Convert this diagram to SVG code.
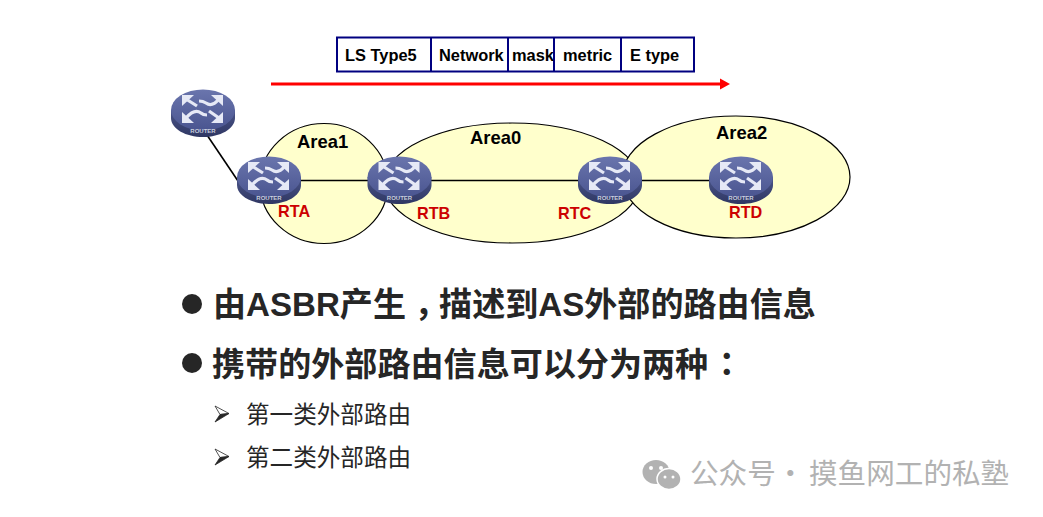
<svg xmlns="http://www.w3.org/2000/svg" width="1043" height="517" viewBox="0 0 1043 517">
<style>
.area{fill:#ffffcc;stroke:#000;stroke-width:1.2}
.link{stroke:#000;stroke-width:1.6;fill:none}
.box{fill:#fff;stroke:#000080;stroke-width:2}
.f{font-family:"Liberation Sans",Arial,sans-serif;font-weight:700;font-size:16.4px;fill:#000}
.a{font-size:18.4px}
.r{font-size:16.200px;fill:#cc0000}
.m{font-family:"Liberation Sans","Noto Sans CJK SC",sans-serif;font-weight:700;font-size:33.1px;fill:#262626}
.p{font-family:"Noto Sans CJK TC",sans-serif}
.s{font-family:"Noto Sans CJK SC",sans-serif;font-size:23.6px;fill:#262626}
.w{font-family:"Noto Sans CJK SC",sans-serif;font-size:28.6px;fill:#b2b2b2}
.tiny{font-family:"Liberation Sans",sans-serif;font-weight:700;font-size:6px;fill:#c9cede;text-anchor:middle}
.bh{fill:#262626;stroke:#262626;stroke-width:.8}
.bo{fill:#fff;stroke:#262626;stroke-width:.8}
</style>
<defs>
<linearGradient id="top" x1="0" y1="0" x2="0" y2="1"><stop offset="0" stop-color="#6a75ad"/><stop offset="1" stop-color="#4a5590"/></linearGradient>
<linearGradient id="side" x1="0" y1="0" x2="0" y2="1"><stop offset="0" stop-color="#4a5488"/><stop offset="1" stop-color="#2f3763"/></linearGradient>
<g id="router">
<path d="M-32,-3V5C-32,16 -17,24 0,24S32,16 32,5V-3Z" fill="url(#side)"/>
<ellipse cx="0" cy="-3" rx="32" ry="20.500" fill="url(#top)"/>
<g fill="none" stroke="#e6e9f6" stroke-width="3.200">
<path d="M-17,-14L-6,-7"/>
<path d="M16,-14C11,-8 7,-7 3,-10C0,-12 -2,-12 -4,-12"/>
<path d="M-17,5C-11,-2 -6,-3 -2,0C0,2 2,2 4,2"/>
<path d="M16,5L6,-2"/>
</g>
<g fill="#e6e9f6">
<path d="M-21,-18L-9,-18L-21,-7Z"/><path d="M20,-18L8,-18L20,-7Z"/><path d="M-21,10L-9,10L-21,-1Z"/><path d="M20,10L8,10L20,-1Z"/>
</g>
<text class="tiny" x="0" y="20">ROUTER</text>
</g>
</defs>
<rect width="1043" height="517" fill="#fff"/>

<g id="packet">
<rect class="box" x="337" y="37.500" width="357" height="34"/>
<path class="box" d="M431,37.500V71.500M508,37.500V71.500M554,37.500V71.500M621,37.500V71.500"/>
<text class="f" x="345" y="61">LS Type5</text>
<text class="f" x="439" y="61">Network</text>
<text class="f" x="512" y="61">mask</text>
<text class="f" x="563" y="61">metric</text>
<text class="f" x="630" y="61">E type</text>
</g>

<g id="areas">
<ellipse id="area0" class="area" cx="512" cy="183" rx="128" ry="60"/>
<ellipse id="area1" class="area" cx="324" cy="183.500" rx="64" ry="60"/>
<ellipse id="area2" class="area" cx="736" cy="177" rx="114" ry="61"/>
<text class="f a" x="297" y="148">Area1</text>
<text class="f a" x="470" y="144">Area0</text>
<text class="f a" x="716" y="139">Area2</text>
</g>

<g id="connectors">
<path d="M271,84H720" stroke="#ff0000" stroke-width="3" fill="none"/>
<path d="M720,78.500L730,84L720,89.500Z" fill="#ff0000"/>
<path class="link" d="M207,135L238,181"/>
<path class="link" d="M300,180.500H370M430,180.500H580M640,180.500H710"/>
</g>

<g id="router-asbr"><use href="#router" x="203" y="113"/></g>
<g id="RTA"><use href="#router" x="269" y="180"/><text class="f r" x="278" y="217">RTA</text></g>
<g id="RTB"><use href="#router" x="399.500" y="180"/><text class="f r" x="417" y="219">RTB</text></g>
<g id="RTC"><use href="#router" x="610" y="180"/><text class="f r" x="558" y="219">RTC</text></g>
<g id="RTD"><use href="#router" x="741" y="180"/><text class="f r" x="729" y="218">RTD</text></g>

<g id="bullets">
<circle cx="192" cy="304" r="10" fill="#262626"/>
<circle cx="192" cy="363" r="10" fill="#262626"/>
<text class="m" x="213" y="316">由ASBR产生<tspan dx="8.500">&#xFF0C;</tspan><tspan dx="-8.500">描述到AS外部的路由信息</tspan></text>
<text class="m" x="212" y="376">携带的外部路由信息可以分为两种<tspan class="p" dx="2">&#xFF1A;</tspan></text>
<path class="bo" d="M215,406L229,413.500L220,414.500Z"/>
<path class="bh" d="M229,413.500L215,422L220,414.500Z"/>
<path class="bo" d="M215,449L229,456.500L220,457.500Z"/>
<path class="bh" d="M229,456.500L215,465L220,457.500Z"/>
<text class="s" x="246" y="423">第一类外部路由</text>
<text class="s" x="246" y="466">第二类外部路由</text>
</g>

<g id="watermark">
<ellipse cx="656" cy="472" rx="13.500" ry="12" fill="#b2b2b2"/>
<ellipse cx="669" cy="479" rx="12" ry="10.500" fill="#b2b2b2" stroke="#fff" stroke-width="1.500"/>
<circle cx="651" cy="468" r="2" fill="#fff"/><circle cx="661" cy="468" r="2" fill="#fff"/>
<circle cx="665" cy="477" r="1.500" fill="#fff"/><circle cx="673" cy="477" r="1.500" fill="#fff"/>
<text class="w" x="690" y="484">公众号</text>
<text class="w" x="776" y="484">·</text>
<text class="w" x="809" y="484">摸鱼网工的私塾</text>
</g>
</svg>
